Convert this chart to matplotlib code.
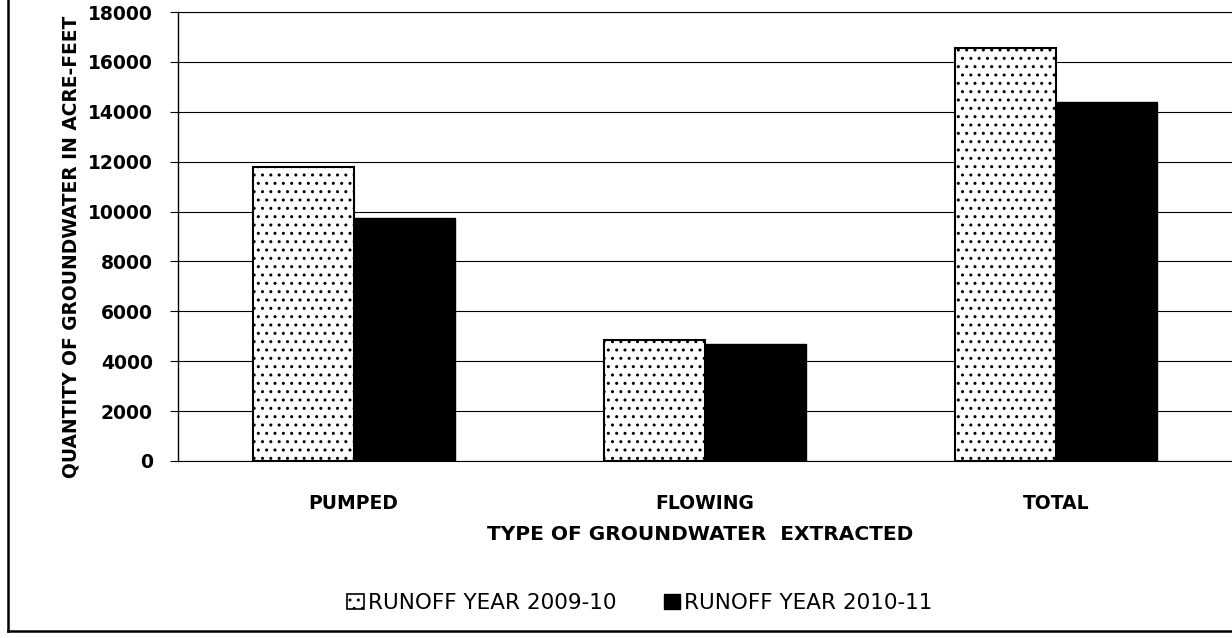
import matplotlib
matplotlib.use("Agg")
import matplotlib.pyplot as plt
import numpy as np
from matplotlib.lines import Line2D
from matplotlib.patches import Patch

categories = ["PUMPED", "FLOWING", "TOTAL"]
series_names = ["RUNOFF YEAR 2009-10", "RUNOFF YEAR 2010-11"]
year_2009_10 = [11800, 4850, 16550]
year_2010_11 = [9750, 4700, 14400]
yticks = [0, 2000, 4000, 6000, 8000, 10000, 12000, 14000, 16000, 18000]

plt.rcParams['font.family'] = ['DejaVu Sans']
plt.rcParams['hatch.linewidth'] = 1.0

W, H = 1232, 638
fig = plt.figure(figsize=(W / 100, H / 100), dpi=100)
ax = fig.add_axes([178 / W, 1 - 461 / H, 1 - 178 / W, (461 - 12) / H])

x = np.arange(len(categories))
bw = 0.2875
ax.bar(x - bw / 2, year_2009_10, bw, facecolor="white", edgecolor="black",
       hatch="..", linewidth=1.5, zorder=3, label=series_names[0])
ax.bar(x + bw / 2, year_2010_11, bw, facecolor="black", edgecolor="black",
       linewidth=1.0, zorder=3, label=series_names[1])

ax.set_xlim(-0.5, len(categories) - 0.5)
ax.set_ylim(0, 18000)
ax.set_yticks(yticks)
ax.set_yticklabels([str(v) for v in yticks], fontsize=13.5, fontweight="bold")
ax.set_xticks(x)
ax.set_xticklabels(categories, fontsize=13.5, fontweight="bold")
ax.tick_params(axis="x", length=0, pad=24)
ax.tick_params(axis="y", length=6, width=0.8, pad=12, direction="out")
ax.yaxis.grid(True, color="black", linewidth=0.8, zorder=0)
ax.set_axisbelow(True)
ax.spines["right"].set_visible(False)
ax.spines["top"].set_linewidth(0.8)
ax.spines["left"].set_linewidth(1.0)
ax.spines["bottom"].set_linewidth(0.8)

fig.text(71 / W, 1 - 247 / H, "QUANTITY OF GROUNDWATER IN ACRE-FEET",
         rotation=90, ha="center", va="center", fontsize=13.4, fontweight="bold")
fig.text(700 / W, 1 - 535 / H, "TYPE OF GROUNDWATER  EXTRACTED",
         ha="center", va="center", fontsize=14.5, fontweight="bold")

handles = [Patch(facecolor="white", edgecolor="black", hatch="..", linewidth=1.2),
           Patch(facecolor="black", edgecolor="black")]
fig.legend(handles, series_names, loc="center", bbox_to_anchor=(640 / W, 1 - 603 / H),
           ncol=2, frameon=False, fontsize=15.5, handlelength=0.75, handleheight=0.75,
           handletextpad=0.2, columnspacing=2.2)

# outer chart border (left and bottom visible in the crop)
fig.add_artist(Line2D([8 / W, 8 / W], [1 - 631 / H, 1.0], transform=fig.transFigure,
                      color="black", linewidth=1.8))
fig.add_artist(Line2D([8 / W, 1.0], [1 - 631 / H, 1 - 631 / H], transform=fig.transFigure,
                      color="black", linewidth=1.8))

fig.savefig("out.png", dpi=100)
